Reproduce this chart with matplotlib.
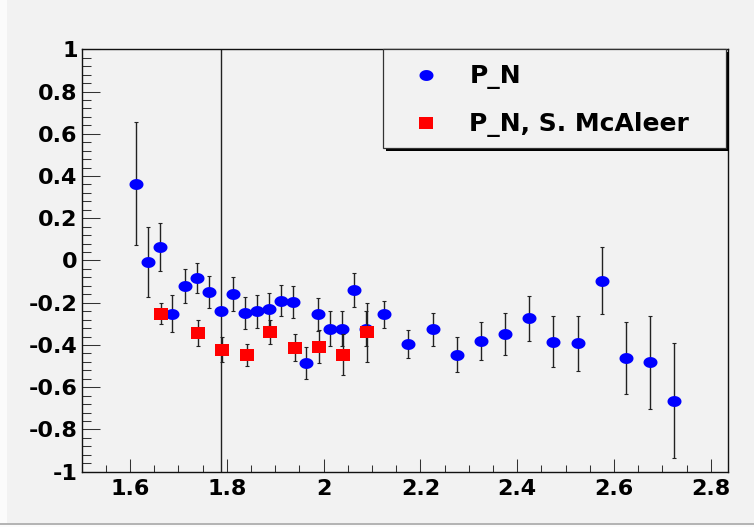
import numpy as np
import matplotlib
matplotlib.use("Agg")
import matplotlib.pyplot as plt
from matplotlib.path import Path
from matplotlib.patches import Rectangle
from matplotlib.lines import Line2D
from matplotlib.ticker import MultipleLocator, FuncFormatter

# ---- data -------------------------------------------------------------
pn_mass = [1.6125, 1.6375, 1.6625, 1.6875, 1.7125, 1.7375, 1.7625, 1.7875,
           1.8125, 1.8375, 1.8625, 1.8875, 1.9125, 1.9375, 1.9625, 1.9875,
           2.0125, 2.0375, 2.0625, 2.0875, 2.125, 2.175, 2.225, 2.275,
           2.325, 2.375, 2.425, 2.475, 2.525, 2.575, 2.625, 2.675, 2.725]
pn_val = [0.364, -0.008, 0.064, -0.251, -0.120, -0.083, -0.150, -0.241,
          -0.160, -0.249, -0.241, -0.232, -0.190, -0.197, -0.484, -0.254,
          -0.322, -0.322, -0.141, -0.323, -0.254, -0.397, -0.326, -0.446,
          -0.380, -0.347, -0.273, -0.384, -0.392, -0.095, -0.461, -0.482,
          -0.664]
pn_err = [0.290, 0.165, 0.112, 0.088, 0.080, 0.070, 0.075, 1.300,
          0.080, 0.076, 0.077, 0.078, 0.075, 0.075, 0.076, 0.078,
          0.082, 0.082, 0.080, 0.083, 0.064, 0.067, 0.078, 0.082,
          0.090, 0.100, 0.106, 0.122, 0.129, 0.160, 0.172, 0.221,
          0.272]

mca_mass = [1.663, 1.740, 1.790, 1.841, 1.890, 1.940, 1.990, 2.039, 2.090]
mca_val = [-0.251, -0.344, -0.422, -0.446, -0.340, -0.413, -0.408, -0.446, -0.340]
mca_err = [0.050, 0.060, 0.058, 0.053, 0.057, 0.064, 0.078, 0.096, 0.141]

legend_labels = ["P_N", "P_N, S. McAleer"]
x_range = (1.5, 2.835)
y_range = (-1.0, 1.0)

# ---- style ------------------------------------------------------------
W, H, DPI = 754, 527, 100
BG = "#f2f2f2"
BLUE = "#0000ff"
RED = "#ff0000"
ERRC = "#222222"

plt.rcParams["font.family"] = ["DejaVu Sans"]
plt.rcParams["font.weight"] = "bold"

# slightly flattened markers (width 14 px, height 11 px)
t = np.linspace(0, 2 * np.pi, 60)
ellipse = Path(np.column_stack([np.cos(t), 0.78 * np.sin(t)]), closed=True)
rect = Path([(-1, -0.8), (1, -0.8), (1, 0.8), (-1, 0.8), (-1, -0.8)], closed=True)
msize = 14 * 72 / DPI


def fx(px):
    return px / W


def fy(py):
    return 1 - py / H


def tick_text(v, pos):
    v = round(v, 3)
    if v == 0:
        v = 0.0
    return f"{v:g}"


fig = plt.figure(figsize=(W / DPI, H / DPI), dpi=DPI, facecolor=BG)

# window chrome: light strip on the left, status line at the bottom
fig.add_artist(Rectangle((0, fy(523)), fx(7), 1, transform=fig.transFigure,
                         facecolor="#fbfbfb", edgecolor="none", zorder=-5))
fig.add_artist(Rectangle((0, 0), 1, fy(525), transform=fig.transFigure,
                         facecolor="#fbfbfb", edgecolor="none", zorder=-5))
fig.add_artist(Rectangle((0, fy(525)), 1, 2 / H, transform=fig.transFigure,
                         facecolor="#b4b4b4", edgecolor="none", zorder=-5))

ax = fig.add_axes([fx(81.7), fy(471.7), (727.7 - 81.7) / W, (471.7 - 49.3) / H])
ax.set_facecolor(BG)
ax.set_xlim(*x_range)
ax.set_ylim(*y_range)

ax.errorbar(pn_mass, pn_val, yerr=pn_err, fmt="none", ecolor=ERRC,
            elinewidth=1.0, capsize=1.5, capthick=0.8, zorder=2)
ax.plot(pn_mass, pn_val, linestyle="none", marker=ellipse, markersize=msize,
        markerfacecolor=BLUE, markeredgecolor=BLUE, markeredgewidth=0, zorder=3)

ax.errorbar(mca_mass, mca_val, yerr=mca_err, fmt="none", ecolor=ERRC,
            elinewidth=1.0, capsize=1.5, capthick=0.8, zorder=4)
ax.plot(mca_mass, mca_val, linestyle="none", marker=rect, markersize=msize,
        markerfacecolor=RED, markeredgecolor=RED, markeredgewidth=0, zorder=5)

# axes frame and ticks
for side in ax.spines.values():
    side.set_linewidth(1.0)
    side.set_color("#111111")

ax.xaxis.set_major_locator(MultipleLocator(0.2))
ax.xaxis.set_minor_locator(MultipleLocator(0.05))
ax.yaxis.set_major_locator(MultipleLocator(0.2))
ax.yaxis.set_minor_locator(MultipleLocator(0.04))
ax.xaxis.set_major_formatter(FuncFormatter(tick_text))
ax.yaxis.set_major_formatter(FuncFormatter(tick_text))

ax.tick_params(axis="both", which="both", direction="in", color="#333333",
               width=0.75, labelsize=16, top=False, right=False)
ax.tick_params(axis="x", which="major", length=9.4, pad=5)
ax.tick_params(axis="x", which="minor", length=5)
ax.tick_params(axis="y", which="major", length=13, pad=3)
ax.tick_params(axis="y", which="minor", length=6.5)
for lab in ax.get_xticklabels() + ax.get_yticklabels():
    lab.set_fontweight("bold")

# legend box with a drop shadow
lx0, ly0, lx1, ly1 = 383.3, 49.3, 725.7, 148.3
fig.add_artist(Rectangle((fx(lx0 + 3), fy(ly1 + 3)), (lx1 - lx0) / W, (ly1 - ly0) / H,
                         transform=fig.transFigure, facecolor="#000000",
                         edgecolor="none", zorder=10))
fig.add_artist(Rectangle((fx(lx0), fy(ly1)), (lx1 - lx0) / W, (ly1 - ly0) / H,
                         transform=fig.transFigure, facecolor=BG,
                         edgecolor="#333333", linewidth=0.9, zorder=11))
fig.add_artist(Line2D([fx(426)], [fy(75)], transform=fig.transFigure,
                      linestyle="none", marker=ellipse, markersize=msize,
                      markerfacecolor=BLUE, markeredgewidth=0, zorder=12))
fig.add_artist(Line2D([fx(426)], [fy(123.3)], transform=fig.transFigure,
                      linestyle="none", marker=rect, markersize=msize,
                      markerfacecolor=RED, markeredgewidth=0, zorder=12))
fig.text(fx(469.3), fy(82.7), legend_labels[0], fontsize=18, fontweight="bold",
         ha="left", va="baseline", zorder=12)
fig.text(fx(469.3), fy(130.7), legend_labels[1], fontsize=18, fontweight="bold",
         ha="left", va="baseline", zorder=12)

fig.savefig("out.png", dpi=DPI, facecolor=BG)
